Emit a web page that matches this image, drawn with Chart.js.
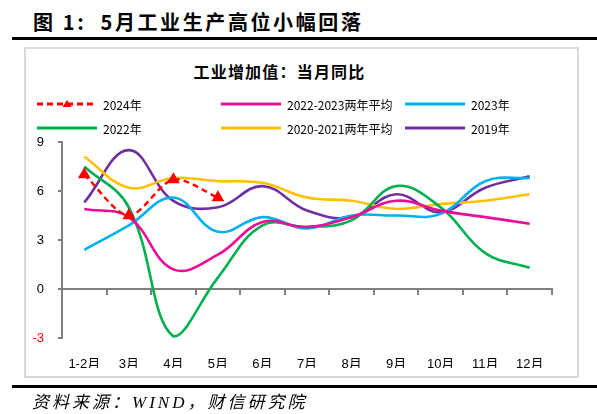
<!DOCTYPE html>
<html>
<head>
<meta charset="utf-8">
<script src="https://cdn.jsdelivr.net/npm/chart.js@4/dist/chart.umd.min.js"></script>
<style>
  html, body { margin: 0; padding: 0; background: #fff; }
  #wrap { position: relative; width: 597px; height: 414px; overflow: hidden; background: #fff; }
  #c { position: absolute; left: 0; top: 0; }
  .title { position: absolute; left: 33px; top: 7px; font: bold 20px "Noto Sans CJK SC", "Liberation Serif", serif; letter-spacing: 2.6px; color: #000; white-space: nowrap; }
  .rule { position: absolute; left: 12px; right: 0; height: 3px; background: #000; }
  .box { position: absolute; left: 24px; top: 47px; width: 551px; height: 327px; border: 2px solid #d9d9d9; }
  .sub { position: absolute; left: 0; width: 559px; top: 59px; text-align: center; font: bold 16px "Noto Sans CJK SC", sans-serif; letter-spacing: 1.2px; color: #000; }
  .src { position: absolute; left: 32px; top: 388px; font: italic 17px "Liberation Serif", "Noto Sans CJK SC", serif; letter-spacing: 3px; color: #000; white-space: nowrap; }
</style>
</head>
<body>
<div id="wrap">
  <div class="title">图 1:&nbsp; 5月工业生产高位小幅回落</div>
  <div class="rule" style="top:37px"></div>
  <div class="box"></div>
  <div class="sub">工业增加值：当月同比</div>
  <canvas id="c" width="597" height="414"></canvas>
  <div class="rule" style="top:385px"></div>
  <div class="src">资料来源：WIND，财信研究院</div>
</div>
<script>
// ---- data ----
const categories = ["1-2月","3月","4月","5月","6月","7月","8月","9月","10月","11月","12月"];
const seriesNames = ["2024年","2022-2023两年平均","2023年","2022年","2020-2021两年平均","2019年"];
const s2024      = [7.0, 4.5, 6.7, 5.6];
const s2022_2023 = [4.9, 4.4, 1.2, 2.1, 4.1, 3.8, 4.4, 5.4, 4.8, 4.4, 4.0];
const s2023      = [2.4, 3.9, 5.6, 3.5, 4.4, 3.7, 4.5, 4.5, 4.6, 6.6, 6.8];
const s2022      = [7.5, 5.0, -2.9, 0.7, 3.9, 3.8, 4.2, 6.3, 5.0, 2.2, 1.3];
const s2020_2021 = [8.1, 6.2, 6.8, 6.6, 6.5, 5.6, 5.4, 4.9, 5.2, 5.4, 5.8];
const s2019      = [5.3, 8.5, 5.4, 5.0, 6.3, 4.8, 4.4, 5.8, 4.7, 6.2, 6.9];
const yTicks     = [-3, 0, 3, 6, 9];

const colors = ["#FF0000", "#EC0C98", "#00B0F0", "#00B050", "#FFC000", "#7030A0"];

function lineDs(label, data, color) {
  return { label, data, borderColor: color, backgroundColor: color, borderWidth: 2.6,
           tension: 0.4, pointRadius: 0, pointHoverRadius: 0, fill: false, clip: false };
}
const datasets = [
  Object.assign(lineDs(seriesNames[0], s2024, colors[0]), {
    borderDash: [6, 4], pointStyle: 'triangle', pointRadius: 5, tension: 0.3, borderWidth: 2.4 }),
  lineDs(seriesNames[1], s2022_2023, colors[1]),
  lineDs(seriesNames[2], s2023, colors[2]),
  lineDs(seriesNames[3], s2022, colors[3]),
  lineDs(seriesNames[4], s2020_2021, colors[4]),
  lineDs(seriesNames[5], s2019, colors[5])
];

// legend drawn on canvas from dataset styles
const legendPlugin = {
  id: 'gridLegend',
  afterDraw(chart) {
    const ctx = chart.ctx;
    const cols = [37, 221, 405];
    const rows = [104, 128];
    const order = [0, 1, 2, 3, 4, 5];
    ctx.save();
    order.forEach((di, k) => {
      const ds = chart.data.datasets[di];
      const x = cols[k % 3], y = rows[Math.floor(k / 3)];
      ctx.strokeStyle = ds.borderColor;
      ctx.lineWidth = 3;
      ctx.setLineDash(ds.borderDash || []);
      ctx.beginPath(); ctx.moveTo(x, y); ctx.lineTo(x + 60, y); ctx.stroke();
      ctx.setLineDash([]);
      if (ds.pointStyle === 'triangle') {
        ctx.fillStyle = ds.borderColor;
        ctx.beginPath();
        ctx.moveTo(x + 30, y - 4); ctx.lineTo(x + 34.5, y + 3); ctx.lineTo(x + 25.5, y + 3);
        ctx.closePath(); ctx.fill();
      }
      ctx.fillStyle = '#000';
      ctx.font = '12px "Liberation Sans Narrow", "Arial Narrow", "Noto Sans CJK SC", sans-serif';
      ctx.textBaseline = 'middle';
      ctx.fillText(ds.label, x + 66, y + 1);
    });
    ctx.restore();
  }
};

const tickFont = { family: '"Liberation Sans", "Noto Sans CJK SC", sans-serif', size: 13 };

new Chart(document.getElementById('c'), {
  type: 'line',
  data: { labels: categories, datasets },
  options: {
    responsive: false,
    animation: false,
    events: [],
    layout: { padding: { left: 22, right: 45, top: 142, bottom: 46 } },
    plugins: { legend: { display: false }, tooltip: { enabled: false }, title: { display: false } },
    scales: {
      x: {
        type: 'category', offset: true, position: 'bottom',
        grid: { display: false }, border: { display: false },
        ticks: { color: '#000', font: tickFont, padding: 11, maxRotation: 0, autoSkip: false },
        afterFit(s) { s.height = 30; }
      },
      x2: {
        type: 'category', labels: categories, offset: true, position: { y: 0 },
        grid: { display: true, offset: true, drawOnChartArea: false, drawTicks: true, tickLength: 5, color: '#808080', lineWidth: 2 },
        border: { display: true, color: '#808080', width: 2 },
        ticks: { display: false },
        afterFit(s) { s.height = 0; }
      },
      y: {
        min: -3, max: 9,
        afterBuildTicks(s) { s.ticks = yTicks.map(v => ({ value: v })); },
        grid: { display: true, drawOnChartArea: false, drawTicks: true, tickLength: 4, color: '#808080', lineWidth: 2 },
        border: { display: true, color: '#808080', width: 2 },
        ticks: { font: tickFont, padding: 14, color: c => (c.tick && c.tick.value < 0) ? '#FF0000' : '#000' },
        afterFit(s) { s.width = 40; }
      }
    }
  },
  plugins: [legendPlugin]
});
</script>
</body>
</html>
